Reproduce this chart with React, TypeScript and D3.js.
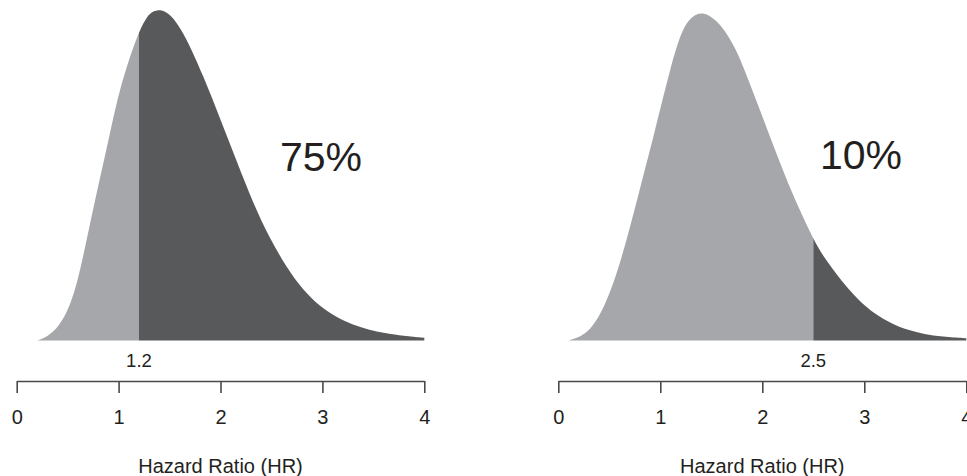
import React, { useEffect, useRef } from "react";
import * as d3 from "d3";

// Left panel: density curve (HR, relative density)
const leftHR = [0.2, 0.23, 0.36, 0.474, 0.54, 0.59, 0.63, 0.7, 0.77, 0.843, 0.915, 0.986, 1.078, 1.192, 1.275, 1.34, 1.42, 1.5, 1.57, 1.67, 1.83, 1.99, 2.16, 2.32, 2.48, 2.65, 2.81, 2.97, 3.14, 3.3, 3.46, 3.63, 3.79, 4.0];
const leftDensity = [0.0, 0.002, 0.022, 0.072, 0.122, 0.173, 0.223, 0.324, 0.425, 0.525, 0.626, 0.727, 0.827, 0.928, 0.978, 0.995, 1.0, 0.985, 0.96, 0.91, 0.8, 0.675, 0.54, 0.415, 0.31, 0.22, 0.152, 0.104, 0.07, 0.047, 0.032, 0.021, 0.014, 0.008];

// Right panel
const rightHR = [0.1, 0.29, 0.46, 0.62, 0.78, 0.95, 1.11, 1.2, 1.27, 1.41, 1.6, 1.73, 1.8, 1.96, 2.12, 2.29, 2.5, 2.61, 2.78, 2.94, 3.1, 3.27, 3.43, 3.59, 3.76, 4.0];
const rightDensity = [0.0, 0.017, 0.102, 0.243, 0.434, 0.636, 0.837, 0.925, 0.968, 1.0, 0.955, 0.885, 0.838, 0.71, 0.578, 0.445, 0.305, 0.248, 0.178, 0.122, 0.08, 0.05, 0.031, 0.019, 0.012, 0.007];

const thresholds = [1.2, 2.5];
const thresholdLabels = ["1.2", "2.5"];
const percentLabels = ["75%", "10%"];
const tickValues = [0, 1, 2, 3, 4];
const axisTitle = "Hazard Ratio (HR)";

const LIGHT = "#a6a7aa";
const DARK = "#58595b";
const TEXT = "#231f20";
const FONT = "'Liberation Sans', Arial, Helvetica, sans-serif";

const panels = [
  { hr: leftHR, dens: leftDensity, x0: 16.7, x1: 424.3, pctX: 280, pctY: 171, id: "L" },
  { hr: rightHR, dens: rightDensity, x0: 558.3, x1: 966.3, pctX: 820, pctY: 168.5, id: "R" },
];

export default function App() {
  const ref = useRef<SVGSVGElement>(null);

  useEffect(() => {
    const svg = d3.select(ref.current);
    svg.selectAll("*").remove();
    const y = d3.scaleLinear().domain([0, 1]).range([340.5, 9.3]);
    const axisY = 381;

    panels.forEach((p, i) => {
      const x = d3.scaleLinear().domain([0, 4]).range([p.x0, p.x1]);
      const pts = p.hr.map((h, k) => [h, p.dens[k]] as [number, number]);
      const area = d3
        .area<[number, number]>()
        .x((d) => x(d[0]))
        .y0(y(0))
        .y1((d) => y(d[1]))
        .curve(d3.curveBasis);
      const t = thresholds[i];
      const defs = svg.append("defs");
      defs
        .append("clipPath")
        .attr("id", "clipLight" + p.id)
        .append("rect")
        .attr("x", 0)
        .attr("y", 0)
        .attr("width", x(t))
        .attr("height", 476);
      defs
        .append("clipPath")
        .attr("id", "clipDark" + p.id)
        .append("rect")
        .attr("x", x(t))
        .attr("y", 0)
        .attr("width", 967 - x(t))
        .attr("height", 476);

      svg
        .append("path")
        .attr("d", area(pts) as string)
        .attr("fill", LIGHT)
        .attr("clip-path", `url(#clipLight${p.id})`);
      svg
        .append("path")
        .attr("d", area(pts) as string)
        .attr("fill", DARK)
        .attr("clip-path", `url(#clipDark${p.id})`);

      // percent label
      svg
        .append("text")
        .attr("x", p.pctX)
        .attr("y", p.pctY)
        .attr("font-family", FONT)
        .attr("font-size", 41)
        .attr("fill", TEXT)
        .text(percentLabels[i]);

      // threshold label
      svg
        .append("text")
        .attr("x", x(t))
        .attr("y", 366.7)
        .attr("text-anchor", "middle")
        .attr("font-family", FONT)
        .attr("font-size", 18.5)
        .attr("fill", TEXT)
        .text(thresholdLabels[i]);

      // axis
      const g = svg.append("g").attr("transform", `translate(0,${axisY})`);
      g.call(
        d3
          .axisBottom(x)
          .tickValues(tickValues)
          .tickFormat(d3.format("d") as any)
          .tickSizeInner(12)
          .tickSizeOuter(0)
          .tickPadding(17)
      );
      g.select(".domain").attr("stroke", "#4a4a4a").attr("stroke-width", 1.6);
      g.selectAll(".tick line").attr("stroke", "#4a4a4a").attr("stroke-width", 1.6);
      g.selectAll(".tick text")
        .attr("font-family", FONT)
        .attr("font-size", 20)
        .attr("fill", TEXT);

      // title
      svg
        .append("text")
        .attr("x", x(2))
        .attr("y", 473.3)
        .attr("text-anchor", "middle")
        .attr("font-family", FONT)
        .attr("font-size", 20)
        .attr("fill", TEXT)
        .text(axisTitle);
    });
  }, []);

  return (
    <svg
      ref={ref}
      width={967}
      height={476}
      style={{ position: "absolute", left: 0, top: 0, background: "#fff" }}
    />
  );
}
